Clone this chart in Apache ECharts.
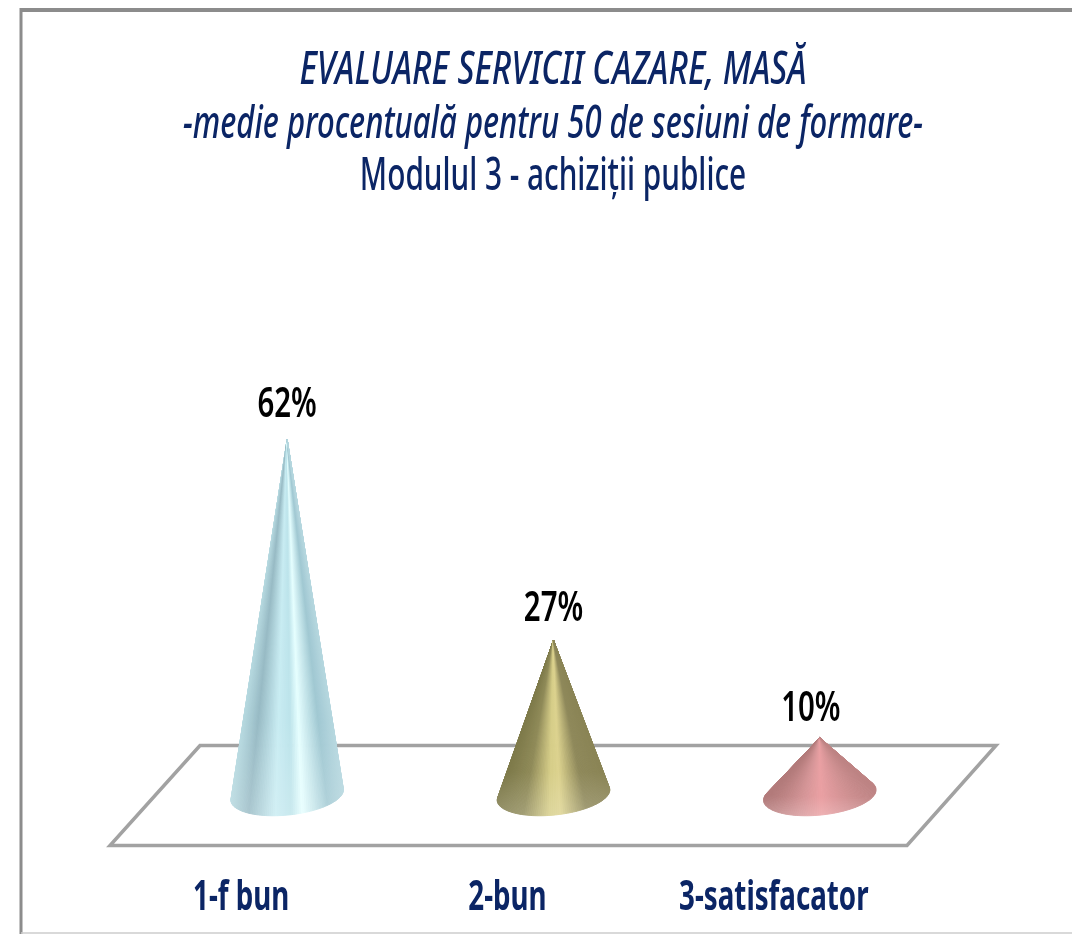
<!DOCTYPE html>
<html>
<head>
<meta charset="utf-8">
<style>
    html, body { margin: 0; padding: 0; background: #fff; }
    #main { width: 1072px; height: 934px; }
</style>
<script src="https://cdn.jsdelivr.net/npm/echarts@6/dist/echarts.min.js"></script>
</head>
<body>
<div id="main"></div>
<script>
var categories = ['1-f bun', '2-bun', '3-satisfacator'];
var values = [62, 27, 10];
var titleLines = [
    'EVALUARE SERVICII CAZARE, MASĂ',
    '-medie procentuală pentru 50 de sesiuni de formare-',
    'Modulul 3 - achiziții publice'
];

var navy = '#0b2565';
var fontName = '"Noto Sans", sans-serif';

// culori pentru fiecare con, de la stanga la dreapta
var coneStops = [
    [[0, '#b4d6de'], [0.15, '#a0c8d2'], [0.38, '#e6ffff'], [0.48, '#bce3ea'], [0.62, '#c8ecf2'], [0.85, '#97bac4'], [1, '#b5d8df']],
    [[0, '#8a8455'], [0.22, '#8e885a'], [0.45, '#dcd28e'], [0.55, '#d6cd88'], [0.78, '#8f8a58'], [1, '#7e7a4a']],
    [[0, '#bd8383'], [0.25, '#d39294'], [0.5, '#eaa0a3'], [0.7, '#d59597'], [1, '#b27a7a']]
];

function hexToRgb(hex) {
    return [parseInt(hex.substr(1, 2), 16), parseInt(hex.substr(3, 2), 16), parseInt(hex.substr(5, 2), 16)];
}

function colorAt(stops, u) {
    for (var i = 1; i < stops.length; i++) {
        if (u <= stops[i][0]) {
            var a = hexToRgb(stops[i - 1][1]);
            var b = hexToRgb(stops[i][1]);
            var t = (u - stops[i - 1][0]) / (stops[i][0] - stops[i - 1][0]);
            return [a[0] + (b[0] - a[0]) * t, a[1] + (b[1] - a[1]) * t, a[2] + (b[2] - a[2]) * t];
        }
    }
    return hexToRgb(stops[stops.length - 1][1]);
}

function rgbStr(c, white) {
    return 'rgb(' + Math.round(c[0] + (255 - c[0]) * white) + ',' + Math.round(c[1] + (255 - c[1]) * white) + ',' + Math.round(c[2] + (255 - c[2]) * white) + ')';
}

function renderCone(params, api) {
    var i = params.dataIndex;
    var value = api.value(1);
    var apex = api.coord([i, value]);
    var base = api.coord([i, 0]);
    var rx = 56.5, ry = 20, tilt = -6 * Math.PI / 180;
    var stops = coneStops[i];

    function rim(th) {
        var ex = rx * Math.cos(th), ey = ry * Math.sin(th);
        return [base[0] + ex * Math.cos(tilt) - ey * Math.sin(tilt), base[1] + ex * Math.sin(tilt) + ey * Math.cos(tilt)];
    }

    // cautam tangentele din varf la elipsa bazei
    function dirFromApex(th) {
        var p = rim(th);
        return (p[0] - apex[0]) / (p[1] - apex[1]);
    }
    var thLeft = Math.PI, thRight = 0;
    for (var k = 0; k <= 90; k++) {
        var extra = k / 90 * Math.PI / 2;
        if (dirFromApex(Math.PI + extra) < dirFromApex(thLeft)) {
            thLeft = Math.PI + extra;
        }
        if (dirFromApex(-extra) > dirFromApex(thRight)) {
            thRight = -extra;
        }
    }

    // fata conului, felii din varf pana la marginea bazei
    var children = [];
    var n = 90;
    var yTop = apex[1], yBottom = base[1] + ry + 1;
    for (var s = 0; s < n; s++) {
        var th0 = thLeft + (thRight - thLeft) * s / n;
        var th1 = thLeft + (thRight - thLeft) * (s + 1) / n;
        var u = (1 - Math.cos((th0 + th1) / 2)) / 2;
        var col = colorAt(stops, u);
        var fill = new echarts.graphic.LinearGradient(0, yTop, 0, yBottom, [
            {offset: 0, color: rgbStr(col, 0)},
            {offset: 0.75, color: rgbStr(col, 0)},
            {offset: 1, color: rgbStr(col, 0.18)}
        ], true);
        children.push({
            type: 'polygon',
            shape: {points: [apex, rim(th0), rim(th1)]},
            style: {fill: fill, stroke: fill, lineWidth: 1}
        });
    }

    // eticheta cu procentul
    children.push({
        type: 'text',
        x: apex[0] + (i === 2 ? -9 : 0),
        y: apex[1] - (28 + value * 0.11),
        scaleX: 0.7,
        style: {
            text: value + '%',
            fill: '#000',
            font: '600 42px ' + fontName,
            textAlign: 'center',
            textVerticalAlign: 'middle'
        }
    });

    // numele categoriei sub platforma
    children.push({
        type: 'text',
        x: base[0] - 46,
        y: base[1] + 103,
        scaleX: 0.66,
        style: {
            text: categories[i],
            fill: navy,
            font: 'bold 42px ' + fontName,
            textAlign: 'center',
            textVerticalAlign: 'middle'
        }
    });

    return {type: 'group', children: children};
}

function titleText(text, y, scale, italic) {
    return {
        type: 'text',
        x: 553,
        y: y,
        scaleX: scale,
        style: {
            text: text,
            fill: navy,
            font: (italic ? 'italic ' : '') + '500 46px ' + fontName,
            textAlign: 'center',
            textVerticalAlign: 'middle'
        }
    };
}

var chart = echarts.init(document.getElementById('main'));
var option = {
    animation: false,
    backgroundColor: '#fff',
    grid: {left: 154, right: 119, top: 222, bottom: 139},
    xAxis: {type: 'category', data: categories, show: false},
    yAxis: {type: 'value', min: 0, max: 100, show: false},
    graphic: [
        {type: 'line', shape: {x1: 21, y1: 10, x2: 1072, y2: 10}, style: {stroke: '#8c8c8c', lineWidth: 4}},
        {type: 'line', shape: {x1: 21, y1: 8, x2: 21, y2: 934}, style: {stroke: '#8c8c8c', lineWidth: 3}},
        {type: 'line', shape: {x1: 21, y1: 933, x2: 1072, y2: 933}, style: {stroke: '#cccccc', lineWidth: 1.5}},
        {
            type: 'polygon',
            shape: {points: [[200, 745.5], [996, 745.5], [907, 845.5], [110, 845.5]]},
            style: {fill: '#fff', stroke: '#a2a2a2', lineWidth: 3.5}
        },
        titleText(titleLines[0], 71, 0.722, true),
        titleText(titleLines[1], 125, 0.676, true),
        titleText(titleLines[2], 177, 0.647, false)
    ],
    series: [{
        type: 'custom',
        coordinateSystem: 'cartesian2d',
        renderItem: renderCone,
        clip: false,
        data: values.map(function (v, i) {
            return [i, v];
        })
    }]
};
chart.setOption(option);
</script>
</body>
</html>
